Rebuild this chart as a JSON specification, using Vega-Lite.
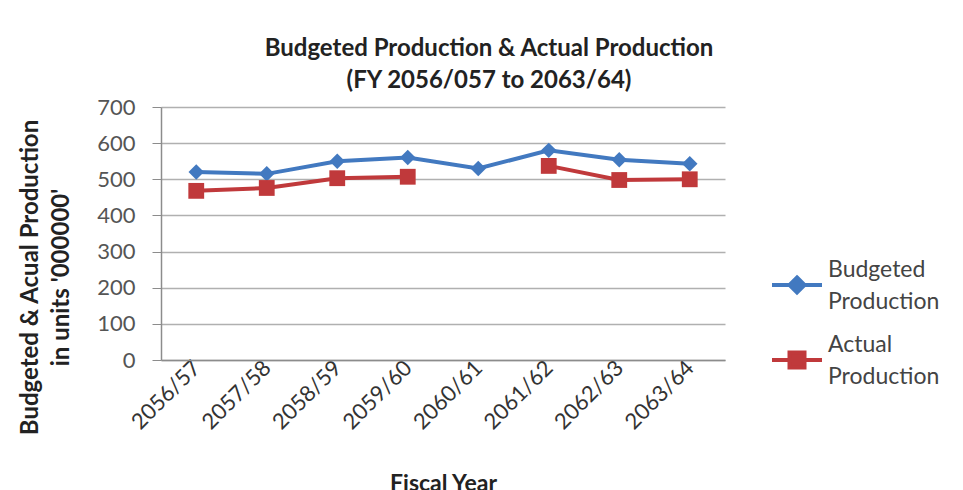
{
  "$schema": "https://vega.github.io/schema/vega-lite/v6.json",
  "autosize": "none",
  "width": 564,
  "height": 253,
  "padding": {"left": 161, "top": 107, "right": 238, "bottom": 130},
  "background": "white",
  "config": {
    "font": "Lato",
    "view": {"stroke": null}
  },
  "title": {
    "text": ["Budgeted Production & Actual Production", "(FY 2056/057 to 2063/64)"],
    "anchor": "middle",
    "frame": "group",
    "dx": 46,
    "offset": 3,
    "fontSize": 24,
    "fontWeight": "bold",
    "lineHeight": 32,
    "color": "#222222",
    "font": "Lato"
  },
  "data": {
    "values": [
      {"year": "2056/57", "series": "Budgeted Production", "value": 520},
      {"year": "2057/58", "series": "Budgeted Production", "value": 515},
      {"year": "2058/59", "series": "Budgeted Production", "value": 550},
      {"year": "2059/60", "series": "Budgeted Production", "value": 560},
      {"year": "2060/61", "series": "Budgeted Production", "value": 530},
      {"year": "2061/62", "series": "Budgeted Production", "value": 580},
      {"year": "2062/63", "series": "Budgeted Production", "value": 554},
      {"year": "2063/64", "series": "Budgeted Production", "value": 543},
      {"year": "2056/57", "series": "Actual Production", "value": 468},
      {"year": "2057/58", "series": "Actual Production", "value": 476},
      {"year": "2058/59", "series": "Actual Production", "value": 503},
      {"year": "2059/60", "series": "Actual Production", "value": 507},
      {"year": "2060/61", "series": "Actual Production", "value": null},
      {"year": "2061/62", "series": "Actual Production", "value": 537},
      {"year": "2062/63", "series": "Actual Production", "value": 498},
      {"year": "2063/64", "series": "Actual Production", "value": 500}
    ]
  },
  "encoding": {
    "x": {
      "field": "year",
      "type": "ordinal",
      "sort": null,
      "scale": {"type": "point", "padding": 0.5},
      "axis": {
        "title": "Fiscal Year",
        "titleFontSize": 23,
        "titleFontWeight": "bold",
        "titleColor": "#222222",
        "titleY": 130,
        "titleBaseline": "alphabetic",
        "labelAngle": -45,
        "labelAlign": "right",
        "labelBaseline": "middle",
        "labelFontSize": 22,
        "labelColor": "#333333",
        "labelPadding": 4,
        "ticks": false,
        "domainColor": "#8c8c8c",
        "domainWidth": 1.5,
        "grid": false
      }
    },
    "y": {
      "field": "value",
      "type": "quantitative",
      "scale": {"domain": [0, 700]},
      "axis": {
        "values": [0, 100, 200, 300, 400, 500, 600, 700],
        "title": ["Budgeted & Acual Production", "in units '000000'"],
        "titleFontSize": 24,
        "titleFontWeight": "bold",
        "titleColor": "#222222",
        "titleAngle": -90,
        "titleAlign": "center",
        "titleBaseline": "top",
        "titleLineHeight": 31,
        "titleX": -143,
        "titleY": 170,
        "labelFontSize": 22,
        "labelColor": "#555555",
        "labelPadding": 17,
        "tickSize": 9,
        "tickColor": "#8c8c8c",
        "domainColor": "#8c8c8c",
        "domainWidth": 1.5,
        "gridColor": "#b0b0b0",
        "gridWidth": 1.5
      }
    },
    "color": {
      "field": "series",
      "type": "nominal",
      "scale": {"domain": ["Budgeted Production", "Actual Production"], "range": ["#4279c0", "#c0393b"]},
      "legend": {
        "title": null,
        "orient": "none",
        "legendX": 609,
        "legendY": 151,
        "labelFontSize": 23,
        "labelColor": "#444444",
        "labelExpr": "split(datum.label, ' ')",
        "labelLimit": 200,
        "labelOffset": 4,
        "symbolSize": 2500,
        "symbolStrokeWidth": 4,
        "rowPadding": 19,
        "encode": {
          "symbols": {
            "update": {
              "shape": {"signal": "datum.value === 'Budgeted Production' ? 'M-1,0H1M0,-0.3L0.3,0L0,0.3L-0.3,0Z' : 'M-1,0H1M-0.3,-0.3H0.3V0.3H-0.3Z'"},
              "fill": {"signal": "datum.value === 'Budgeted Production' ? '#4279c0' : '#c0393b'"},
              "stroke": {"signal": "datum.value === 'Budgeted Production' ? '#4279c0' : '#c0393b'"}
            }
          },
          "labels": {
            "update": {"dy": {"value": -15}, "lineHeight": {"value": 32}}
          }
        }
      }
    }
  },
  "layer": [
    {
      "mark": {"type": "line", "strokeWidth": 4, "invalid": "break-paths-show-domains"}
    },
    {
      "transform": [{"filter": "datum.series === 'Budgeted Production'"}],
      "mark": {"type": "point", "shape": "diamond", "filled": true, "opacity": 1, "size": 240}
    },
    {
      "transform": [{"filter": "datum.series === 'Actual Production'"}],
      "mark": {"type": "point", "shape": "square", "filled": true, "opacity": 1, "size": 250}
    }
  ]
}
